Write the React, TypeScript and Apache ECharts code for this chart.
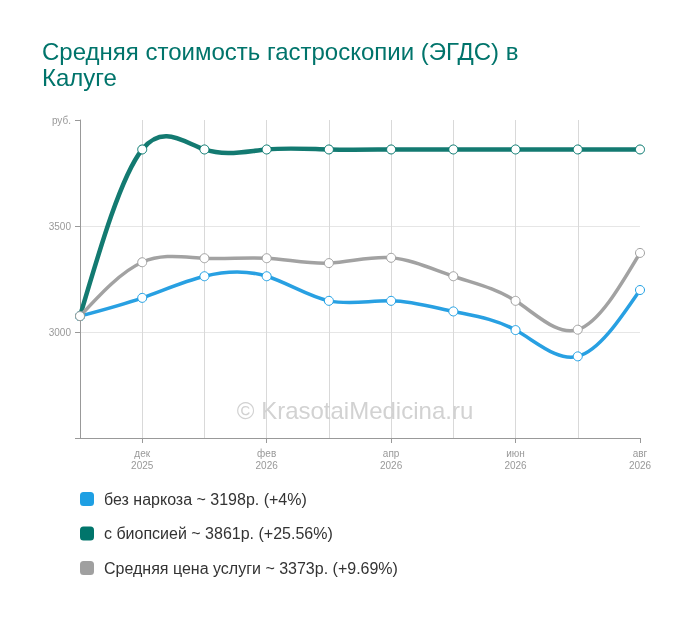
import React, { useEffect, useRef } from "react";
import * as echarts from "echarts";

const months = ["ноя\n2025", "дек\n2025", "янв\n2026", "фев\n2026", "мар\n2026", "апр\n2026", "май\n2026", "июн\n2026", "июл\n2026", "авг\n2026"];
const seriesNames = ["без наркоза", "с биопсией", "Средняя цена услуги"];
const seriesColors = ["#1e9fe3", "#00756b", "#a0a0a0"];
const lineColors = ["#28a0e2", "#137a71", "#a2a2a2"];
const noAnesthesia = [3075, 3161, 3263, 3263, 3147, 3147, 3097, 3009, 2885, 3198];
const withBiopsy = [3075, 3861, 3861, 3861, 3861, 3861, 3861, 3861, 3861, 3861];
const averagePrice = [3075, 3329, 3348, 3348, 3325, 3350, 3263, 3147, 3011, 3373];
const yTickLabels: Record<number, string> = { 2500: "", 3000: "3000", 3500: "3500", 4000: "руб." };

const seriesData = [noAnesthesia, withBiopsy, averagePrice];
const lineWidths = [3.5, 4.5, 3.5];

function legendLabel(name: string): string {
  const i = seriesNames.indexOf(name);
  const d = seriesData[i];
  const last = d[d.length - 1];
  const pct = parseFloat((((last - d[0]) / d[0]) * 100).toFixed(2));
  return `${name} ~ ${last}р. (+${pct}%)`;
}

// natural cubic spline second derivatives (uniform spacing)
function naturalM(ys: number[]): number[] {
  const n = ys.length;
  const M = new Array(n).fill(0);
  if (n < 3) return M;
  const m = n - 2;
  const a: number[] = [], b: number[] = [], c: number[] = [], d: number[] = [];
  for (let k = 0; k < m; k++) {
    const i = k + 1;
    a.push(1); b.push(4); c.push(1);
    d.push(6 * (ys[i + 1] - 2 * ys[i] + ys[i - 1]));
  }
  for (let k = 1; k < m; k++) {
    const w = a[k] / b[k - 1];
    b[k] -= w * c[k - 1];
    d[k] -= w * d[k - 1];
  }
  const x = new Array(m).fill(0);
  x[m - 1] = d[m - 1] / b[m - 1];
  for (let k = m - 2; k >= 0; k--) x[k] = (d[k] - c[k] * x[k + 1]) / b[k];
  for (let k = 0; k < m; k++) M[k + 1] = x[k];
  return M;
}

function controls(ys: number[]): [number, number][] {
  const M = naturalM(ys);
  const out: [number, number][] = [];
  for (let i = 0; i < ys.length - 1; i++) {
    const dy = ys[i + 1] - ys[i];
    const s0 = dy - (2 * M[i] + M[i + 1]) / 6;
    const s1 = dy + (M[i] + 2 * M[i + 1]) / 6;
    out.push([ys[i] + s0 / 3, ys[i + 1] - s1 / 3]);
  }
  return out;
}

export default function App() {
  const ref = useRef<HTMLDivElement>(null);
  useEffect(() => {
    if (!ref.current) return;
    const chart = echarts.init(ref.current, undefined, { renderer: "svg" });
    const font = '"Liberation Sans", Arial, sans-serif';
    const order = [0, 1, 2];
    const curveSeries = order.map((si) => {
      const ys = seriesData[si];
      const cps = controls(ys);
      return {
        name: seriesNames[si],
        type: "custom",
        z: 2,
        silent: true,
        data: ys.map((v, i) => [i, v]),
        encode: { x: 0, y: 1 },
        renderItem: (params: any, api: any) => {
          const i = params.dataIndex;
          if (i >= ys.length - 1) return null;
          const p0 = api.coord([i, ys[i]]);
          const p3 = api.coord([i + 1, ys[i + 1]]);
          const c1 = api.coord([i, cps[i][0]]);
          const c2 = api.coord([i, cps[i][1]]);
          const dx = p3[0] - p0[0];
          return {
            type: "bezierCurve",
            shape: {
              x1: p0[0], y1: p0[1],
              x2: p3[0], y2: p3[1],
              cpx1: p0[0] + dx / 3, cpy1: c1[1],
              cpx2: p0[0] + (2 * dx) / 3, cpy2: c2[1],
            },
            style: { stroke: lineColors[si], lineWidth: lineWidths[si], fill: null, lineCap: "round" },
          };
        },
      };
    });
    const pointSeries = order.map((si) => ({
      name: seriesNames[si],
      type: "line",
      z: 3,
      data: seriesData[si],
      symbol: "circle",
      symbolSize: 9,
      showSymbol: true,
      lineStyle: { width: 0, opacity: 0 },
      itemStyle: { color: "#fff", borderColor: seriesColors[si], borderWidth: 1 },
      emphasis: { disabled: true },
    }));
    chart.setOption({
      animation: false,
      textStyle: { fontFamily: font },
      title: {
        text: "Средняя стоимость гастроскопии (ЭГДС) в\nКалуге",
        left: 42,
        top: 38,
        padding: 0,
        textStyle: { fontSize: 24, fontWeight: "normal", color: "#00746b", lineHeight: 26, fontFamily: font },
      },
      grid: { left: 80, right: 60, top: 120, bottom: 179, containLabel: false },
      legend: {
        orient: "vertical",
        left: 80,
        top: 491,
        padding: 0,
        itemWidth: 14,
        itemHeight: 14,
        itemGap: 18.5,
        icon: "roundRect",
        selectedMode: false,
        formatter: legendLabel,
        textStyle: { fontSize: 16, color: "#333", padding: [0, 0, 0, 5], fontFamily: font },
        data: seriesNames.map((n, i) => ({ name: n, itemStyle: { color: seriesColors[i], borderWidth: 0 } })),
      },
      xAxis: {
        type: "category",
        boundaryGap: false,
        data: months,
        axisLine: { lineStyle: { color: "#999", width: 1 } },
        axisTick: { show: true, length: 5, alignWithLabel: true, interval: (i: number) => i % 2 === 1, lineStyle: { color: "#999" } },
        axisLabel: { interval: (i: number) => i % 2 === 1, color: "#999", fontSize: 10, lineHeight: 12, margin: 9 },
        splitLine: { show: true, interval: (i: number) => i > 0 && i < months.length - 1, lineStyle: { color: "#d9d9d9", width: 1 } },
      },
      yAxis: {
        type: "value",
        min: 2500,
        max: 4000,
        interval: 500,
        axisLine: { show: true, lineStyle: { color: "#999", width: 1 } },
        axisTick: { show: true, length: 5, lineStyle: { color: "#999" } },
        axisLabel: { color: "#999", fontSize: 10, margin: 9, formatter: (v: number) => yTickLabels[v] ?? String(v) },
        splitLine: { show: true, lineStyle: { color: ["rgba(0,0,0,0)", "#e6e6e6", "#e6e6e6", "rgba(0,0,0,0)"], width: 1 } },
      },
      graphic: [
        {
          type: "text",
          x: 355,
          y: 410,
          z: 100,
          style: {
            text: "© KrasotaiMedicina.ru",
            fontSize: 24,
            fontFamily: font,
            fill: "#d2d2d2",
            textAlign: "center",
            textVerticalAlign: "middle",
          },
        },
      ],
      series: [...curveSeries, ...pointSeries],
    });
    return () => chart.dispose();
  }, []);
  return <div ref={ref} style={{ position: "fixed", left: 0, top: 0, width: 700, height: 617 }} />;
}
